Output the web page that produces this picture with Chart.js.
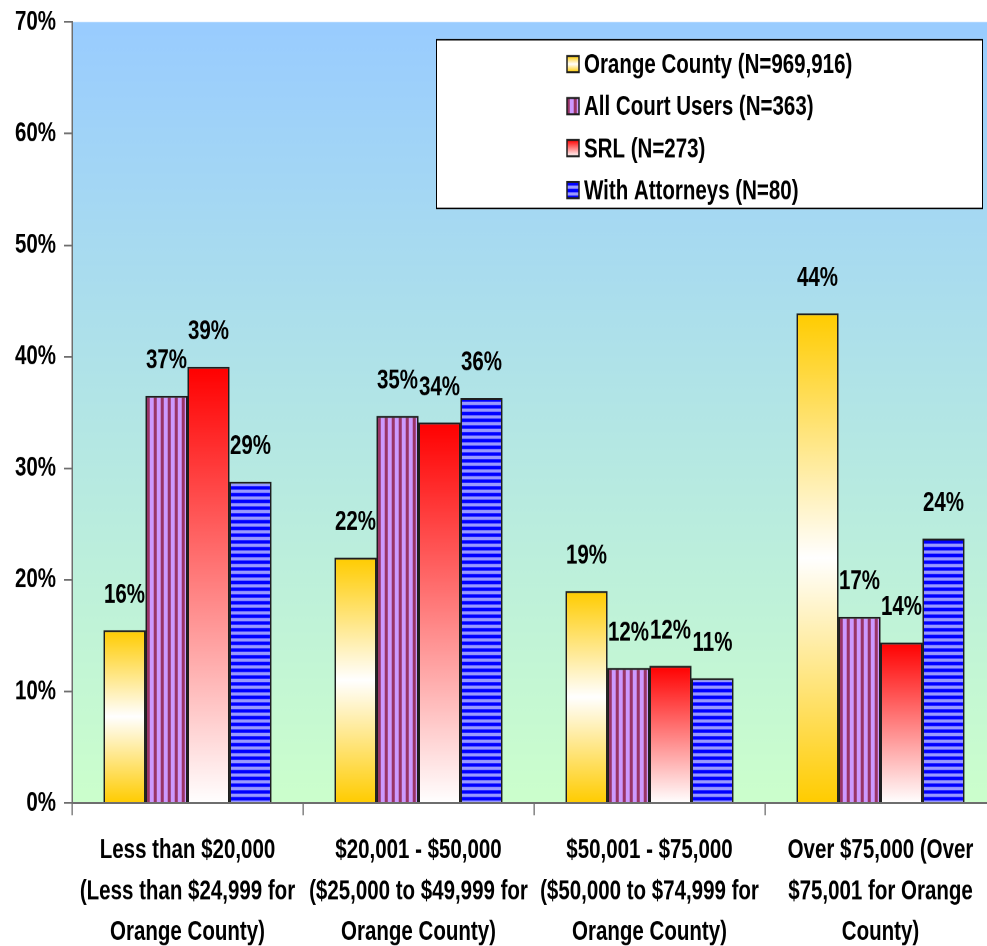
<!DOCTYPE html>
<html>
<head>
<meta charset="utf-8">
<title>Household income of court users</title>
<script src="https://cdn.jsdelivr.net/npm/chart.js@4.4.1/dist/chart.umd.min.js"></script>
<style>
  html, body { margin: 0; padding: 0; background: #ffffff; overflow: hidden; width: 987px; height: 946px; }
  #frame { position: absolute; left: 0; top: 0; width: 1000px; height: 700px;
           transform-origin: 0 0; transform: scaleY(1.35143); }
</style>
</head>
<body>
<div id="frame"><canvas id="chart" width="1000" height="700"></canvas></div>
<script>
// Income brackets (x categories)
const categories = [
  ['Less than $20,000', '(Less than $24,999 for', 'Orange County)'],
  ['$20,001 - $50,000', '($25,000 to $49,999 for', 'Orange County)'],
  ['$50,001 - $75,000', '($50,000 to $74,999 for', 'Orange County)'],
  ['Over $75,000 (Over', '$75,001 for Orange', 'County)']
];

// Series names
const seriesNames = [
  'Orange County (N=969,916)',
  'All Court Users (N=363)',
  'SRL (N=273)',
  'With Attorneys (N=80)'
];

// Percent of each group in each bracket
const orangeCounty  = [15.5, 22.0, 19.0, 43.9];
const allCourtUsers = [36.5, 34.7, 12.1, 16.7];
const srl           = [39.1, 34.1, 12.3, 14.4];
const withAttorneys = [28.8, 36.3, 11.2, 23.7];

// Value axis
const yMin = 0;
const yMax = 70;
const yStep = 10;

const DPR = 2;
const FONT = "'Liberation Sans', Arial, sans-serif";
Chart.defaults.font.family = FONT;
Chart.defaults.color = '#000000';

// ---- fills ----
function makePattern(w, h, paint) {
  const c = document.createElement('canvas');
  c.width = w * DPR; c.height = h * DPR;
  const g = c.getContext('2d');
  paint(g, c.width, c.height);
  const p = g.createPattern(c, 'repeat');
  if (p.setTransform) p.setTransform(new DOMMatrix().scale(1 / DPR));
  return p;
}

// vertical plum / lilac stripes
const purpleStripes = makePattern(7, 7, (g, w, h) => {
  g.fillStyle = '#cc99ff'; g.fillRect(0, 0, w, h);
  g.fillStyle = '#993366'; g.fillRect(0, 0, 5, h);
  g.fillStyle = '#b066aa'; g.fillRect(5, 0, 1, h); g.fillRect(w - 1, 0, 1, h);
});

// horizontal blue / periwinkle stripes
const blueStripes = makePattern(5, 5, (g, w, h) => {
  g.fillStyle = '#9999ff'; g.fillRect(0, 0, w, h);
  g.fillStyle = '#0000ff'; g.fillRect(0, 0, w, 4);
  g.fillStyle = '#4444ff'; g.fillRect(0, 4, w, 1); g.fillRect(0, h - 1, w, 1);
});

function goldGradient(ctx, top, bottom) {
  const gr = ctx.createLinearGradient(0, top, 0, bottom);
  gr.addColorStop(0, '#ffcc00');
  gr.addColorStop(0.5, '#ffffff');
  gr.addColorStop(1, '#ffcc00');
  return gr;
}
function redGradient(ctx, top, bottom) {
  const gr = ctx.createLinearGradient(0, top, 0, bottom);
  gr.addColorStop(0, '#ff0000');
  gr.addColorStop(1, '#ffffff');
  return gr;
}

function perBar(makeGrad, fallback) {
  return (c) => {
    const chart = c.chart;
    if (c.type !== 'data' || !chart.chartArea || !chart.scales.y) return fallback;
    const y = chart.scales.y;
    return makeGrad(chart.ctx, y.getPixelForValue(c.raw), y.getPixelForValue(0));
  };
}

const BORDER = '#1e1e1e';

// ---- plugins ----
const plotBackground = {
  id: 'plotBackground',
  beforeDraw(chart) {
    const { ctx, chartArea: a } = chart;
    ctx.save();
    const gr = ctx.createLinearGradient(0, a.top, 0, a.bottom);
    gr.addColorStop(0, '#99ccff');
    gr.addColorStop(1, '#ccffcc');
    ctx.fillStyle = gr;
    ctx.fillRect(a.left, a.top, a.right - a.left, a.bottom - a.top);
    ctx.restore();
  }
};

const valueLabels = {
  id: 'valueLabels',
  afterDatasetsDraw(chart) {
    const { ctx } = chart;
    ctx.save();
    ctx.font = 'bold 20.5px ' + FONT;
    ctx.fillStyle = '#000000';
    ctx.textAlign = 'center';
    ctx.textBaseline = 'middle';
    chart.data.datasets.forEach((ds, i) => {
      chart.getDatasetMeta(i).data.forEach((bar, j) => {
        ctx.fillText(Math.round(ds.data[j]) + '%', bar.x, bar.y - 26);
      });
    });
    ctx.restore();
  }
};

const boxedLegend = {
  id: 'boxedLegend',
  afterDraw(chart) {
    const { ctx, chartArea: a } = chart;
    const left = a.left + 364, top = a.top + 12.6, w = 547, h = 125.8;
    ctx.save();
    ctx.fillStyle = '#ffffff';
    ctx.fillRect(left, top, w, h);
    ctx.strokeStyle = '#000000';
    ctx.lineWidth = 1;
    ctx.strokeRect(left + 0.5, top + 0.5, w - 1, h - 1);
    ctx.font = 'bold 20.5px ' + FONT;
    ctx.textBaseline = 'middle';
    ctx.textAlign = 'left';
    const fills = [
      (t, b) => goldGradient(ctx, t, b),
      () => purpleStripes,
      (t, b) => redGradient(ctx, t, b),
      () => blueStripes
    ];
    chart.data.datasets.forEach((ds, i) => {
      const cy = top + 18.5 + i * 31.1;
      const mx = left + 131, my = cy - 6;
      ctx.fillStyle = fills[i](my, my + 12);
      ctx.fillRect(mx, my, 12, 12);
      ctx.strokeStyle = BORDER;
      ctx.lineWidth = 1.5;
      ctx.strokeRect(mx, my, 12, 12);
      ctx.fillStyle = '#000000';
      ctx.fillText(ds.label, left + 148, cy + 1);
    });
    ctx.restore();
  }
};

const barStyle = { borderColor: BORDER, borderWidth: 1.5, borderSkipped: 'start' };

new Chart(document.getElementById('chart'), {
  type: 'bar',
  data: {
    labels: categories,
    datasets: [
      Object.assign({ label: seriesNames[0], data: orangeCounty,
        backgroundColor: perBar(goldGradient, '#ffcc00') }, barStyle),
      Object.assign({ label: seriesNames[1], data: allCourtUsers,
        backgroundColor: purpleStripes }, barStyle),
      Object.assign({ label: seriesNames[2], data: srl,
        backgroundColor: perBar(redGradient, '#ff0000') }, barStyle),
      Object.assign({ label: seriesNames[3], data: withAttorneys,
        backgroundColor: blueStripes }, barStyle)
    ]
  },
  options: {
    responsive: false,
    animation: false,
    devicePixelRatio: DPR,
    events: [],
    layout: { padding: { top: 16.3, right: 4, left: 0, bottom: 0 } },
    datasets: { bar: { categoryPercentage: 0.727, barPercentage: 1.0 } },
    plugins: { legend: { display: false }, tooltip: { enabled: false } },
    scales: {
      x: {
        afterFit(scale) { scale.height = 105.8; scale.paddingLeft = 0; scale.paddingRight = 0; },
        grid: { offset: true, drawOnChartArea: false, drawTicks: true, tickLength: 9, color: '#6e6e6e', lineWidth: 1.3 },
        border: { color: '#6e6e6e', width: 1.5 },
        ticks: { font: { size: 20.5, weight: 'bold', lineHeight: 1.48 }, color: '#000000',
                 padding: 11, maxRotation: 0, minRotation: 0, autoSkip: false }
      },
      y: {
        min: yMin, max: yMax,
        afterFit(scale) { scale.width = 72; scale.paddingTop = 0; scale.paddingBottom = 0; },
        grid: { drawOnChartArea: false, drawTicks: true, tickLength: 8, color: '#6e6e6e', lineWidth: 1.3 },
        border: { color: '#6e6e6e', width: 1.5 },
        ticks: { stepSize: yStep, padding: 8, color: '#000000',
                 font: { size: 20.5, weight: 'bold' },
                 callback: (v) => v + '%' }
      }
    }
  },
  plugins: [plotBackground, valueLabels, boxedLegend]
});
</script>
</body>
</html>
